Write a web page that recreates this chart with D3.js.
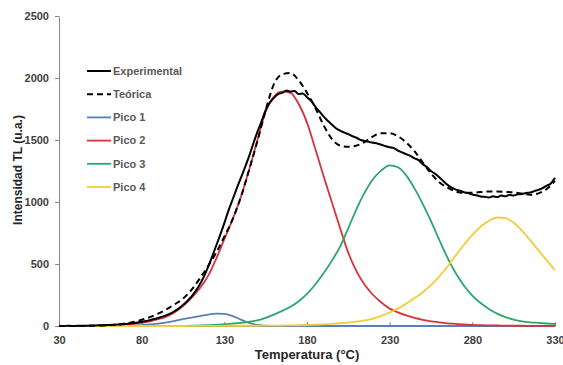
<!DOCTYPE html>
<meta charset="utf-8">
<style>
  body { margin: 0; background: #fff; font-family: "Liberation Sans", Arial, sans-serif; }
  .axis path, .axis line { stroke: #868686; }
  .axis text { font-size: 11px; font-weight: bold; fill: #404040; font-family: "Liberation Sans", Arial, sans-serif; }
  .legend text { font-size: 11px; font-weight: bold; fill: #595959; }
</style>
<body></body>
<script src="https://d3js.org/d3.v7.min.js"></script>
<script>
// temperatures for the fitted curves (step 5)
var temps = d3.range(30, 331, 5);
// temperatures for experimental curve (step 2.5)
var tempsExp = d3.range(0, 121).map(function(i) { return 30 + i * 2.5; });

var experimental = [0, 0, 2, 1, 0, 2, 3, 2, 4, 5, 6, 6, 8, 10, 12, 13, 16, 20, 24, 28,
  34, 40, 48, 56, 65, 76, 88, 102, 120, 142, 170, 200, 235, 280, 330, 395, 470, 555, 645, 735,
  830, 930, 1020, 1110, 1195, 1280, 1370, 1470, 1565, 1650, 1740, 1800, 1840, 1870, 1880, 1900, 1890, 1895, 1870, 1875,
  1845, 1815, 1770, 1730, 1690, 1655, 1625, 1595, 1575, 1560, 1548, 1530, 1518, 1500, 1492, 1485, 1478, 1472, 1462, 1450,
  1442, 1435, 1415, 1400, 1385, 1372, 1352, 1338, 1305, 1282, 1250, 1228, 1200, 1168, 1138, 1115, 1100, 1092, 1078, 1072,
  1060, 1055, 1045, 1042, 1036, 1046, 1040, 1052, 1046, 1058, 1052, 1062, 1064, 1072, 1076, 1088, 1098, 1112, 1132, 1150,
  1195];

var teorica = [0, 0, 0, 1, 2, 4, 7, 12, 20, 32, 50, 72, 100, 135, 175, 220, 290, 380, 480, 590,
  720, 860, 1040, 1260, 1490, 1740, 1950, 2030, 2040, 1980, 1880, 1760, 1620, 1510, 1455, 1445, 1455, 1485, 1530, 1555,
  1555, 1530, 1480, 1410, 1320, 1230, 1160, 1115, 1085, 1075, 1075, 1080, 1085, 1085, 1082, 1078, 1068, 1058, 1070, 1105,
  1170];

var pico1 = [0, 0, 0, 0, 0, 0, 0, 1, 2, 4, 7, 12, 20, 30, 42, 55, 68, 80, 92, 100,
  98, 80, 52, 25, 8, 2, 0, 0, 0, 0, 0, 0, 0, 0, 0, 0, 0, 0, 0, 0,
  0, 0, 0, 0, 0, 0, 0, 0, 0, 0, 0, 0, 0, 0, 0, 0, 0, 0, 0, 0,
  0];

var pico2 = [0, 0, 0, 0, 0, 1, 3, 6, 10, 16, 25, 38, 55, 75, 110, 160, 225, 300, 400, 540,
  700, 860, 1040, 1260, 1500, 1730, 1850, 1890, 1880, 1790, 1640, 1430, 1210, 1000, 790, 590, 440, 330, 250, 190,
  140, 110, 85, 65, 50, 38, 30, 22, 17, 12, 9, 7, 5, 4, 3, 2, 2, 1, 1, 1,
  0];

var pico3 = [0, 0, 0, 0, 0, 0, 0, 0, 0, 0, 0, 0, 0, 0, 0, 1, 2, 4, 6, 10,
  14, 20, 26, 34, 46, 66, 92, 122, 155, 200, 260, 335, 425, 525, 640, 790, 945, 1080, 1185, 1255,
  1295, 1280, 1215, 1110, 985, 845, 695, 550, 425, 325, 245, 185, 138, 100, 72, 52, 38, 30, 25, 20,
  16];

var pico4 = [0, 0, 0, 0, 0, 0, 0, 0, 0, 0, 0, 0, 0, 0, 0, 0, 1, 1, 1, 1,
  2, 2, 2, 2, 2, 3, 3, 4, 5, 6, 8, 10, 13, 17, 22, 28, 35, 45, 60, 82,
  110, 140, 180, 225, 272, 330, 400, 480, 570, 655, 735, 800, 848, 875, 870, 832, 770, 692, 610, 530,
  450];

var xTicks = [30, 80, 130, 180, 230, 280, 330];
var yTicks = [0, 500, 1000, 1500, 2000, 2500];

var series = [
  { name: "Experimental", t: tempsExp, v: experimental, color: "#000000", width: 2, dash: null },
  { name: "Teórica", t: temps, v: teorica, color: "#000000", width: 2, dash: "6,4" },
  { name: "Pico 1", t: temps, v: pico1, color: "#5b7fb5", width: 1.8, dash: null },
  { name: "Pico 2", t: temps, v: pico2, color: "#d9323c", width: 1.8, dash: null },
  { name: "Pico 3", t: temps, v: pico3, color: "#2ca66a", width: 1.8, dash: null },
  { name: "Pico 4", t: temps, v: pico4, color: "#efcd3c", width: 1.8, dash: null }
];

var W = 563, H = 365;
var x = d3.scaleLinear().domain([30, 330]).range([59, 555]);
var y = d3.scaleLinear().domain([0, 2500]).range([326, 16]);

var svg = d3.select("body").append("svg")
  .attr("width", W)
  .attr("height", H);

// axes
svg.append("g")
  .attr("class", "axis")
  .attr("transform", "translate(0,326)")
  .call(d3.axisBottom(x).tickValues(xTicks).tickSizeInner(-4).tickSizeOuter(0).tickPadding(10))
  .call(function(g) { g.selectAll("text").attr("dy", "0.71em"); });

svg.append("g")
  .attr("class", "axis")
  .attr("transform", "translate(59,0)")
  .call(d3.axisLeft(y).tickValues(yTicks).tickFormat(d3.format("d"))
    .tickSizeInner(4).tickSizeOuter(0).tickPadding(6));

// curves (pico lines first, black lines on top)
var line = function(s) {
  return d3.line()
    .x(function(d, i) { return x(s.t[i]); })
    .y(function(d) { return y(d); })
    .curve(d3.curveMonotoneX)(s.v);
};

[2, 3, 4, 5, 1, 0].forEach(function(k) {
  var s = series[k];
  svg.append("path")
    .attr("d", line(s))
    .attr("fill", "none")
    .attr("stroke", s.color)
    .attr("stroke-width", s.width)
    .attr("stroke-dasharray", s.dash)
    .attr("stroke-linejoin", "round");
});

// legend
var legend = svg.append("g").attr("class", "legend");
series.forEach(function(s, i) {
  var ly = 71 + i * 23.2;
  legend.append("line")
    .attr("x1", 87).attr("x2", 111)
    .attr("y1", ly).attr("y2", ly)
    .attr("stroke", s.color)
    .attr("stroke-width", s.width)
    .attr("stroke-dasharray", s.dash);
  legend.append("text")
    .attr("x", 113)
    .attr("y", ly)
    .attr("dy", "0.35em")
    .text(s.name);
});

// axis titles
svg.append("text")
  .attr("transform", "translate(22,170) rotate(-90)")
  .attr("text-anchor", "middle")
  .style("font-size", "12px")
  .style("font-weight", "bold")
  .style("fill", "#262626")
  .text("Intensidad TL (u.a.)");

svg.append("text")
  .attr("x", 307)
  .attr("y", 359)
  .attr("text-anchor", "middle")
  .style("font-size", "13px")
  .style("font-weight", "bold")
  .style("fill", "#262626")
  .text("Temperatura (°C)");
</script>
